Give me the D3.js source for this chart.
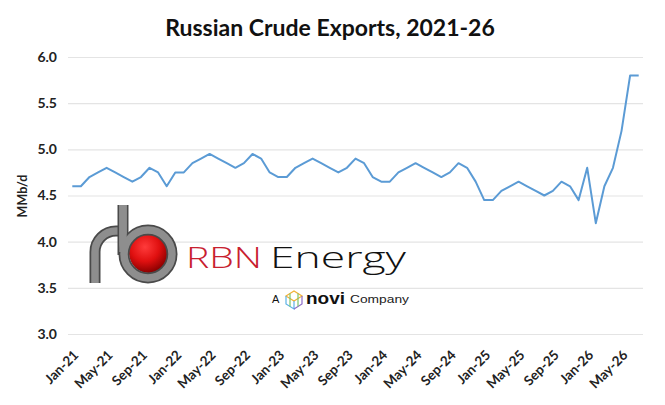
<!DOCTYPE html>
<html><head><meta charset="utf-8">
<script src="https://cdn.jsdelivr.net/npm/d3@7"></script>
<style>
body{margin:0;background:#fff;}
svg{display:block;}
</style></head>
<body>
<svg id="chart" width="665" height="405"></svg>
<script>
const title = "Russian Crude Exports, 2021-26";
const yLabel = "MMb/d";
const months = [
 "Jan-21","Feb-21","Mar-21","Apr-21","May-21","Jun-21","Jul-21","Aug-21","Sep-21","Oct-21","Nov-21","Dec-21",
 "Jan-22","Feb-22","Mar-22","Apr-22","May-22","Jun-22","Jul-22","Aug-22","Sep-22","Oct-22","Nov-22","Dec-22",
 "Jan-23","Feb-23","Mar-23","Apr-23","May-23","Jun-23","Jul-23","Aug-23","Sep-23","Oct-23","Nov-23","Dec-23",
 "Jan-24","Feb-24","Mar-24","Apr-24","May-24","Jun-24","Jul-24","Aug-24","Sep-24","Oct-24","Nov-24","Dec-24",
 "Jan-25","Feb-25","Mar-25","Apr-25","May-25","Jun-25","Jul-25","Aug-25","Sep-25","Oct-25","Nov-25","Dec-25",
 "Jan-26","Feb-26","Mar-26","Apr-26","May-26","Jun-26","Jul-26"
];
const exportsMMbd = [
 4.6,4.6,4.7,4.75,4.8,4.75,4.7,4.65,4.7,4.8,4.75,4.6,
 4.75,4.75,4.85,4.9,4.95,4.9,4.85,4.8,4.85,4.95,4.9,4.75,
 4.7,4.7,4.8,4.85,4.9,4.85,4.8,4.75,4.8,4.9,4.85,4.7,
 4.65,4.65,4.75,4.8,4.85,4.8,4.75,4.7,4.75,4.85,4.8,4.65,
 4.45,4.45,4.55,4.6,4.65,4.6,4.55,4.5,4.55,4.65,4.6,4.45,
 4.8,4.2,4.6,4.8,5.2,5.8,5.8
];
const xTickLabels = ["Jan-21","May-21","Sep-21","Jan-22","May-22","Sep-22","Jan-23","May-23","Sep-23",
 "Jan-24","May-24","Sep-24","Jan-25","May-25","Sep-25","Jan-26","May-26"];
const yTicks = [3.0,3.5,4.0,4.5,5.0,5.5,6.0];

const svg = d3.select("#chart");
const mLeft = 68, mRight = 643, mTop = 57, mBottom = 334;
const x = d3.scaleBand().domain(months).range([mLeft, mRight]).padding(0);
const y = d3.scaleLinear().domain([3, 6]).range([mBottom, mTop]);
const cx = m => x(m) + x.bandwidth()/2;
const font = "Lato, 'Open Sans', sans-serif";

// title
svg.append("text").attr("x", 330).attr("y", 36).attr("text-anchor","middle")
  .attr("font-family",font).attr("font-weight","bold")
  .attr("font-size",23).attr("fill","#111").text(title);

// gridlines + y ticks
const yAxis = d3.axisLeft(y).tickValues(yTicks).tickFormat(d3.format(".1f"))
  .tickSize(-(mRight-mLeft)).tickPadding(11);
const gy = svg.append("g").attr("transform",`translate(${mLeft},0)`).call(yAxis);
gy.select(".domain").remove();
gy.selectAll(".tick line").attr("stroke","#e4e4e4").attr("stroke-width",1.2);
gy.selectAll(".tick text").attr("font-family",font)
  .attr("font-weight","bold").attr("font-size",14).attr("fill","#222");

// y label
svg.append("text").attr("transform","translate(27,196) rotate(-90)").attr("text-anchor","middle")
  .attr("font-family",font).attr("font-weight","bold")
  .attr("font-size",12.5).attr("fill","#222").text(yLabel);

// x ticks
const xAxis = d3.axisBottom(x).tickValues(xTickLabels).tickSize(0).tickPadding(0);
const gx = svg.append("g").attr("transform",`translate(0,${mBottom})`).call(xAxis);
gx.select(".domain").remove();
gx.selectAll(".tick text").attr("font-family",font)
  .attr("font-weight","bold").attr("font-size",13.5).attr("fill","#222")
  .attr("text-anchor","end").attr("dy",0)
  .attr("transform","translate(7,22) rotate(-45)");

// logo (RBN Energy watermark)
const logo = svg.append("g");
const defs = svg.append("defs");
const rg = defs.append("radialGradient").attr("id","redball").attr("cx","40%").attr("cy","35%").attr("r","65%");
rg.append("stop").attr("offset","0%").attr("stop-color","#ff3b3b");
rg.append("stop").attr("offset","55%").attr("stop-color","#e01010");
rg.append("stop").attr("offset","100%").attr("stop-color","#8a0000");
const pipeOuter = "#4a4a4a", pipeInner = "#8e8e8e";
function pipe(d){
  logo.append("path").attr("d",d).attr("fill","none").attr("stroke",pipeOuter).attr("stroke-width",11);
  logo.append("path").attr("d",d).attr("fill","none").attr("stroke",pipeInner).attr("stroke-width",7.5);
}
logo.append("circle").attr("cx",149).attr("cy",253).attr("r",20).attr("fill","url(#redball)");
pipe("M 95 283 L 95 252 A 21 21 0 0 1 116 231 L 123 231");
pipe("M 123 205 L 123 255");
logo.append("circle").attr("cx",148).attr("cy",254).attr("r",24).attr("fill","none").attr("stroke",pipeOuter).attr("stroke-width",11);
logo.append("circle").attr("cx",148).attr("cy",254).attr("r",24).attr("fill","none").attr("stroke",pipeInner).attr("stroke-width",7.5);
logo.append("path").attr("d","M 123 205 L 123 252").attr("fill","none").attr("stroke",pipeInner).attr("stroke-width",7.5);

logo.append("text").attr("x",186).attr("y",268)
  .attr("font-family","'Open Sans', 'DejaVu Sans', sans-serif").attr("font-weight",300)
  .attr("font-size",30).attr("fill","#c8202f")
  .attr("textLength",76).attr("lengthAdjust","spacingAndGlyphs").text("RBN");
logo.append("text").attr("x",270).attr("y",268)
  .attr("font-family","'Open Sans', 'DejaVu Sans', sans-serif").attr("font-weight",300)
  .attr("font-size",30).attr("fill","#111")
  .attr("textLength",136).attr("lengthAdjust","spacingAndGlyphs").text("Energy");
logo.append("text").attr("x",272).attr("y",303)
  .attr("font-family","'Liberation Sans', sans-serif").attr("font-size",11).attr("fill","#111").text("A");
// novi icon
const ic = logo.append("g").attr("fill","none").attr("stroke-width",1.2);
[["#f2b134","M 286 296 L 294 291 L 302 296 L 294 301 Z"],
 ["#5cb3e6","M 286 296 L 286 304 L 294 309 L 294 301"],
 ["#8e6cc9","M 302 296 L 302 304 L 294 309"],
 ["#7cc46b","M 290 293.5 L 290 306.5 M 298 293.5 L 298 306.5"]]
 .forEach(([c,d]) => ic.append("path").attr("d",d).attr("stroke",c));
logo.append("text").attr("x",306).attr("y",304)
  .attr("font-family","'Liberation Sans', sans-serif").attr("font-weight","bold")
  .attr("font-size",17).attr("fill","#111")
  .attr("textLength",39).attr("lengthAdjust","spacingAndGlyphs").text("novi");
logo.append("text").attr("x",350).attr("y",303)
  .attr("font-family","'Liberation Sans', sans-serif").attr("font-size",11).attr("fill","#222")
  .attr("textLength",59).attr("lengthAdjust","spacingAndGlyphs").text("Company");

// data line
const line = d3.line().x((d,i) => cx(months[i])).y(d => y(d));
svg.append("path").datum(exportsMMbd).attr("d",line)
  .attr("fill","none").attr("stroke","#5b9bd5").attr("stroke-width",2).attr("stroke-linejoin","round");
</script>
</body></html>
